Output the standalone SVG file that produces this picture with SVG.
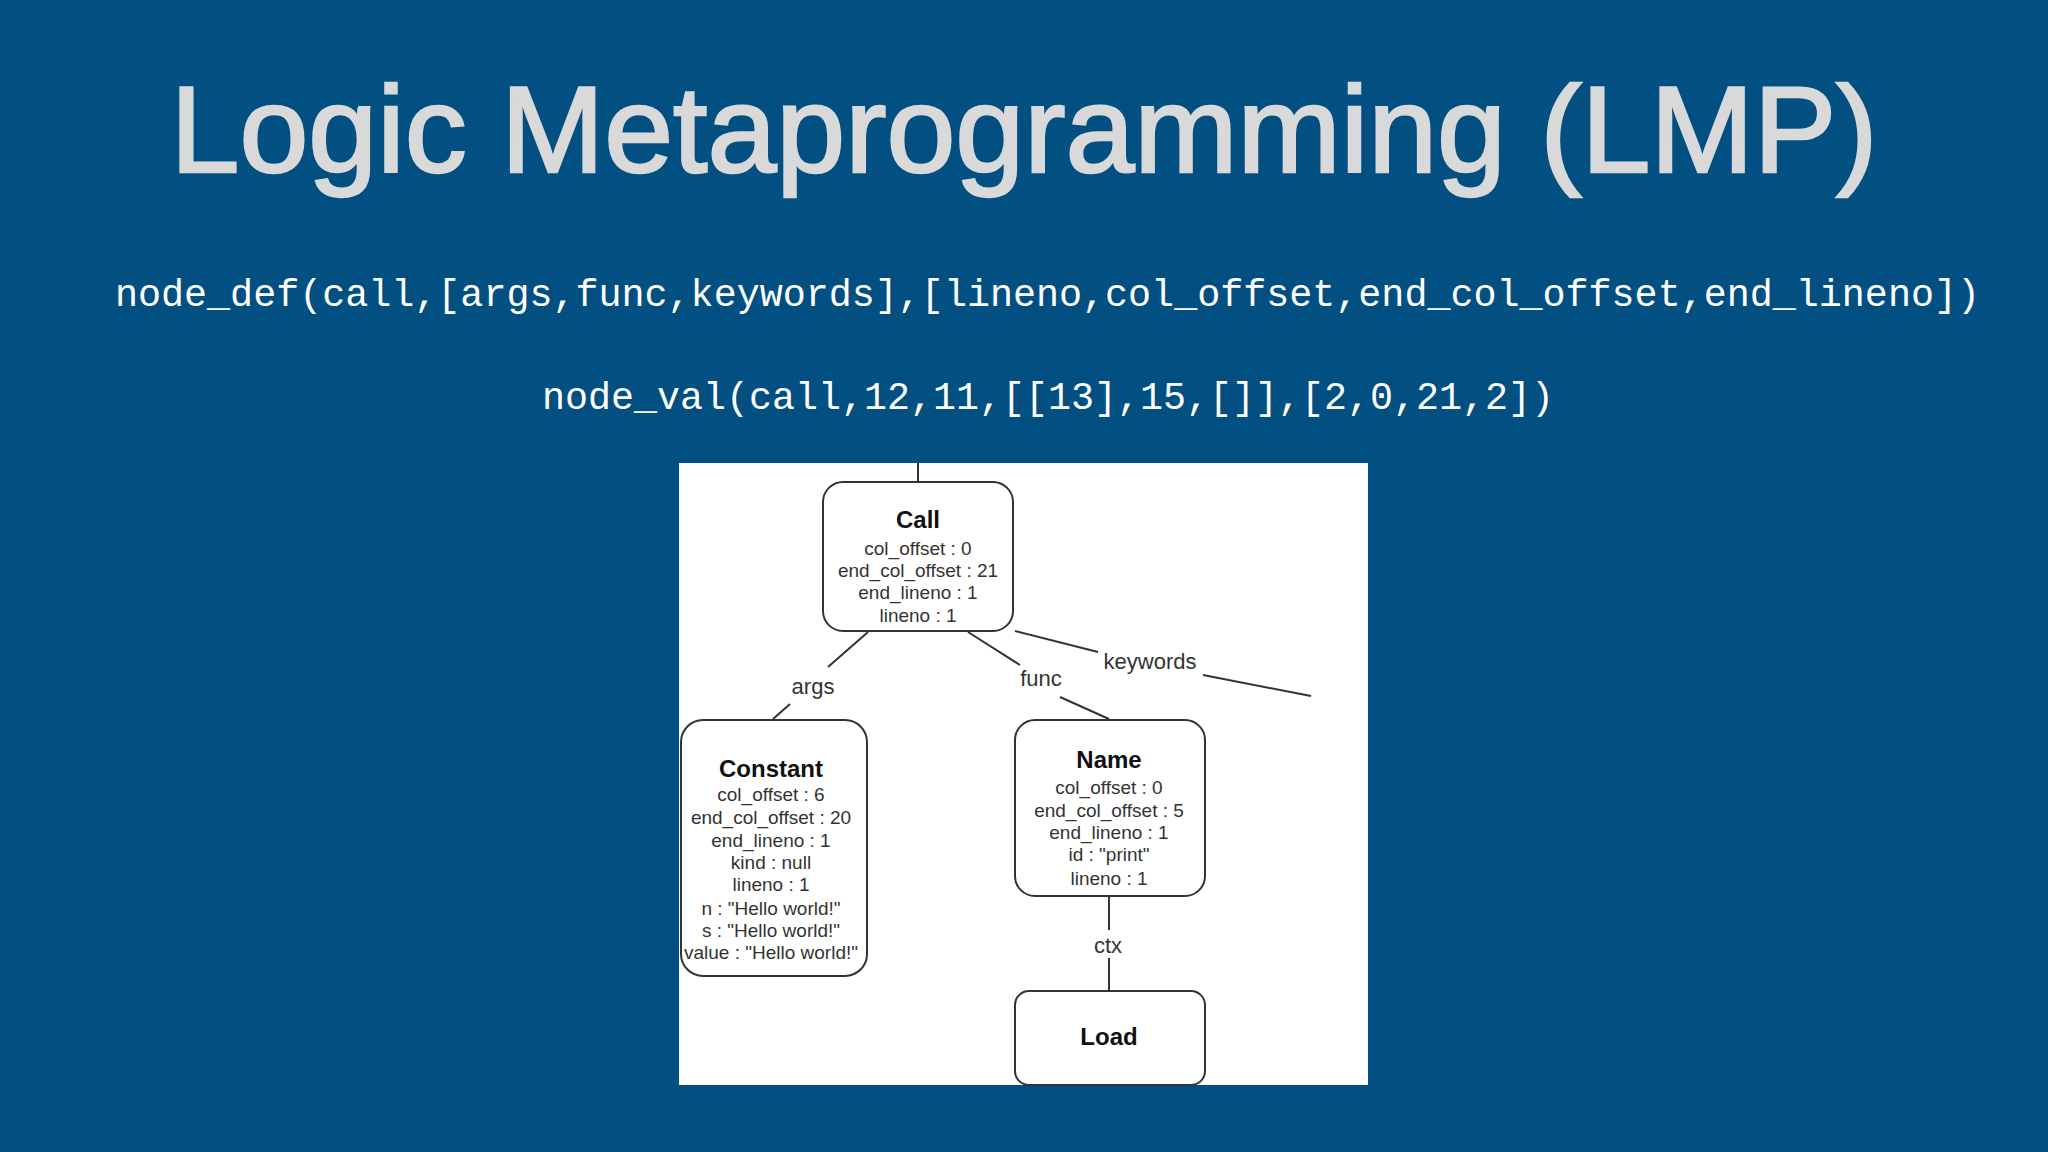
<svg xmlns="http://www.w3.org/2000/svg" width="2048" height="1152" viewBox="0 0 2048 1152">
<style>
.box{fill:#fff;stroke:#333;stroke-width:2}
.t{font-family:"Liberation Sans",Arial,sans-serif;font-weight:bold;font-size:24px;fill:#111;text-anchor:middle}
.a{font-family:"Liberation Sans",Arial,sans-serif;font-size:19px;fill:#333;text-anchor:middle}
.l{font-family:"Liberation Sans",Arial,sans-serif;font-size:22px;fill:#333;text-anchor:middle}
.e{stroke:#333;stroke-width:2;fill:none}
.code{font-family:"Liberation Mono","DejaVu Sans Mono",monospace;font-size:38px;fill:#fff}
</style>
<rect width="2048" height="1152" fill="#024f82"/>
<text x="1024" y="172" font-family="Liberation Sans,Arial,sans-serif" font-size="122" fill="#d9d9d9" stroke="#d9d9d9" stroke-width="2.5" text-anchor="middle" textLength="1707" lengthAdjust="spacingAndGlyphs">Logic Metaprogramming (LMP)</text>
<text class="code" x="115" y="306" textLength="1865" lengthAdjust="spacingAndGlyphs">node_def(call,[args,func,keywords],[lineno,col_offset,end_col_offset,end_lineno])</text>
<text class="code" x="542" y="409" textLength="1012" lengthAdjust="spacingAndGlyphs">node_val(call,12,11,[[13],15,[]],[2,0,21,2])</text>
<rect x="679" y="463" width="689" height="622" fill="#fff"/>
<g id="connectors">
<line class="e" x1="918" y1="463" x2="918" y2="482"/>
<line class="e" x1="868" y1="632" x2="828" y2="667"/>
<line class="e" x1="790" y1="704" x2="773" y2="719"/>
<text class="l" x="813" y="694">args</text>
<line class="e" x1="968" y1="632" x2="1020" y2="665"/>
<line class="e" x1="1060" y1="697" x2="1109" y2="719"/>
<text class="l" x="1041" y="686">func</text>
<line class="e" x1="1015" y1="631" x2="1098" y2="652"/>
<line class="e" x1="1203" y1="675" x2="1311" y2="696"/>
<text class="l" x="1150" y="669">keywords</text>
<line class="e" x1="1109" y1="896" x2="1109" y2="930"/>
<line class="e" x1="1109" y1="958" x2="1109" y2="991"/>
<text class="l" x="1108" y="953">ctx</text>
</g>
<g id="call">
<rect class="box" x="823" y="482" width="190" height="149" rx="20"/>
<text class="t" x="918" y="528">Call</text>
<text class="a" x="918" y="555">col_offset : 0</text>
<text class="a" x="918" y="577">end_col_offset : 21</text>
<text class="a" x="918" y="599">end_lineno : 1</text>
<text class="a" x="918" y="622">lineno : 1</text>
</g>
<g id="constant">
<rect class="box" x="681" y="720" width="186" height="256" rx="22"/>
<text class="t" x="771" y="777">Constant</text>
<text class="a" x="771" y="801">col_offset : 6</text>
<text class="a" x="771" y="824">end_col_offset : 20</text>
<text class="a" x="771" y="847">end_lineno : 1</text>
<text class="a" x="771" y="869">kind : null</text>
<text class="a" x="771" y="891">lineno : 1</text>
<text class="a" x="771" y="915">n : "Hello world!"</text>
<text class="a" x="771" y="937">s : "Hello world!"</text>
<text class="a" x="771" y="959">value : "Hello world!"</text>
</g>
<g id="name">
<rect class="box" x="1015" y="720" width="190" height="176" rx="20"/>
<text class="t" x="1109" y="768">Name</text>
<text class="a" x="1109" y="794">col_offset : 0</text>
<text class="a" x="1109" y="817">end_col_offset : 5</text>
<text class="a" x="1109" y="839">end_lineno : 1</text>
<text class="a" x="1109" y="861">id : "print"</text>
<text class="a" x="1109" y="885">lineno : 1</text>
</g>
<g id="load">
<rect class="box" x="1015" y="991" width="190" height="94" rx="14"/>
<text class="t" x="1109" y="1045">Load</text>
</g>
</svg>
